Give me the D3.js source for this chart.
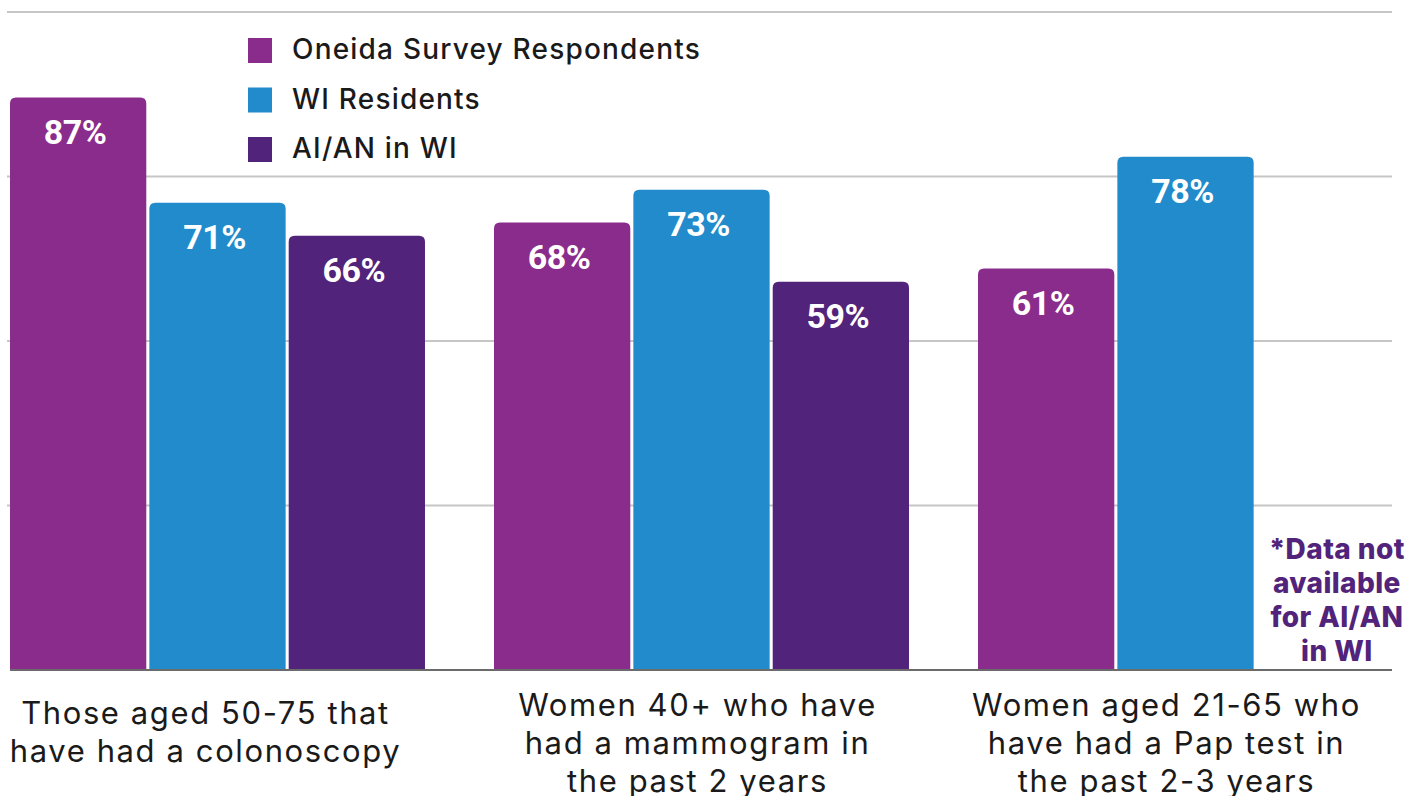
<!DOCTYPE html>
<html>
<head>
<meta charset="utf-8">
<script src="https://cdn.jsdelivr.net/npm/d3@7"></script>
<style>
  html, body { margin: 0; padding: 0; background: #fff; }
  svg { display: block; }
</style>
</head>
<body>
<svg id="chart" width="1407" height="796"></svg>
<script>
// ---- data ----
const categories = [
  ["Those aged 50-75 that", "have had a colonoscopy"],
  ["Women 40+ who have", "had a mammogram in", "the past 2 years"],
  ["Women aged 21-65 who", "have had a Pap test in", "the past 2-3 years"]
];
const seriesNames = ["Oneida Survey Respondents", "WI Residents", "AI/AN in WI"];
const oneida = [87, 68, 61];
const wiResidents = [71, 73, 78];
const aianWI = [66, 59, null];
const yTicks = [0, 25, 50, 75, 100];
const noteLines = ["*Data not", "available", "for AI/AN", "in WI"];

const colors = ["#8a2c8b", "#228bcb", "#52237a"];
const series = [oneida, wiResidents, aianWI];

const svg = d3.select("#chart");

const x0 = d3.scaleBand().domain(d3.range(categories.length)).range([10, 1393]).paddingInner(0.1426).paddingOuter(0);
const x1 = d3.scaleBand().domain(d3.range(seriesNames.length)).range([0, x0.bandwidth()]).paddingInner(0.022).paddingOuter(0);
const y = d3.scaleLinear().domain([0, 100]).range([670, 12]);

// gridlines
svg.append("g").selectAll("line").data(yTicks.filter(d => d > 0)).join("line")
  .attr("x1", 7).attr("x2", 1392)
  .attr("y1", d => y(d)).attr("y2", d => y(d))
  .attr("stroke", "#c6c6c6").attr("stroke-width", 2);

// bars
function topRounded(x, yTop, w, h, r) {
  r = Math.min(r, w / 2, h);
  return `M${x},${yTop + h}V${yTop + r}Q${x},${yTop} ${x + r},${yTop}H${x + w - r}Q${x + w},${yTop} ${x + w},${yTop + r}V${yTop + h}Z`;
}
const barData = [];
categories.forEach((c, i) => series.forEach((s, j) => {
  if (s[i] != null) barData.push({ i, j, v: s[i] });
}));
svg.append("g").selectAll("path").data(barData).join("path")
  .attr("d", d => topRounded(x0(d.i) + x1(d.j), y(d.v), x1.bandwidth(), y(0) - y(d.v), 6))
  .attr("fill", d => colors[d.j]);

// value labels
svg.append("g").selectAll("text").data(barData).join("text")
  .attr("x", d => x0(d.i) + x1(d.j) + x1.bandwidth() / 2 - 3)
  .attr("y", d => y(d.v) + 46)
  .attr("text-anchor", "middle")
  .attr("fill", "#fff")
  .attr("font-family", "Roboto, sans-serif")
  .attr("font-weight", 700)
  .attr("font-size", 34)
  .attr("letter-spacing", -0.5)
  .text(d => d.v + "%");

// baseline
svg.append("line")
  .attr("x1", 10).attr("x2", 1392)
  .attr("y1", y(0)).attr("y2", y(0))
  .attr("stroke", "#6b6b6b").attr("stroke-width", 2);

// legend
const lg = svg.append("g").attr("transform", "translate(248,38)");
const li = lg.selectAll("g").data(seriesNames).join("g")
  .attr("transform", (d, i) => `translate(0,${i * 49.5})`);
li.append("rect").attr("width", 24).attr("height", 25).attr("fill", (d, i) => colors[i]);
li.append("text").attr("x", 44).attr("y", 21)
  .attr("font-family", "Inter, sans-serif").attr("font-weight", 500)
  .attr("font-size", 28).attr("letter-spacing", 1.2)
  .attr("fill", "#1a1a1a").text(d => d);

// category labels
const catShift = [-12, -4, -19];
const cg = svg.append("g");
categories.forEach((lines, i) => {
  const t = cg.append("text")
    .attr("text-anchor", "middle")
    .attr("font-family", "Inter, sans-serif").attr("font-weight", 400)
    .attr("font-size", 31).attr("letter-spacing", 1.6).attr("fill", "#1a1a1a");
  const startY = lines.length === 2 ? 724 : 716;
  lines.forEach((l, k) => {
    t.append("tspan")
      .attr("x", x0(i) + x0.bandwidth() / 2 + catShift[i])
      .attr("y", startY + k * 38)
      .text(l);
  });
});

// note
const noteX = x0(2) + x1(2) + x1.bandwidth() / 2 + 12;
const nt = svg.append("text")
  .attr("text-anchor", "middle")
  .attr("font-family", "Inter, sans-serif").attr("font-weight", 800)
  .attr("font-size", 28).attr("letter-spacing", 0.4).attr("fill", colors[2]);
noteLines.forEach((l, k) => {
  nt.append("tspan").attr("x", noteX).attr("y", 559 + k * 34).text(l);
});
</script>
</body>
</html>
